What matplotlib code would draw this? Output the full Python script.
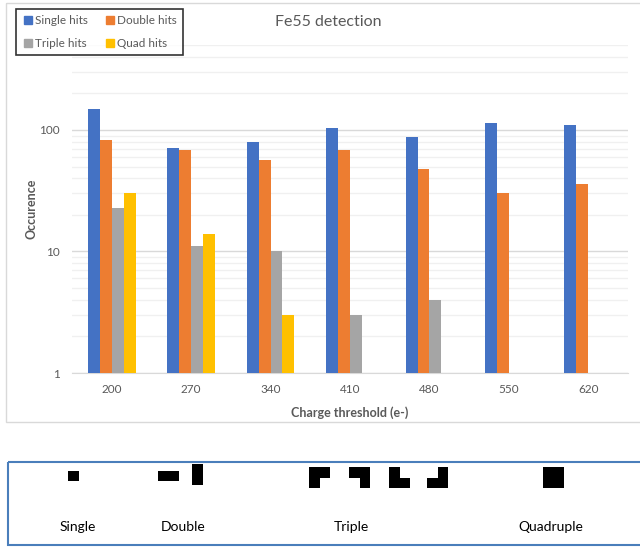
import numpy as np
import matplotlib
matplotlib.use('Agg')
import matplotlib.pyplot as plt
from matplotlib.patches import Rectangle
from matplotlib.lines import Line2D

plt.rcParams['font.family'] = ['Lato', 'DejaVu Sans']

# --
# data

thresholds = ['200', '270', '340', '410', '480', '550', '620']
single_hits = [149, 71, 79, 103, 88, 113, 110]
double_hits = [82, 68, 57, 69, 48, 30, 36]
triple_hits = [23, 11, 10, 3, 4, np.nan, np.nan]
quad_hits = [30, 14, 3, np.nan, np.nan, np.nan, np.nan]

series_names = ['Single hits', 'Double hits', 'Triple hits', 'Quad hits']
series_colors = ['#4472C4', '#ED7D31', '#A5A5A5', '#FFC000']

# cluster shapes as (col, row) cells, row 0 on top
cluster_labels = ['Single', 'Double', 'Triple', 'Quadruple']
single_shapes = [[(0, 0)]]
double_shapes = [[(0, 0), (1, 0)], [(0, 0), (0, 1)]]
triple_shapes = [[(0, 0), (1, 0), (0, 1)],
                 [(0, 0), (1, 0), (1, 1)],
                 [(0, 0), (0, 1), (1, 1)],
                 [(1, 0), (1, 1), (0, 1)]]
quad_shapes = [[(0, 0), (1, 0), (0, 1), (1, 1)]]


# --
# figure + pixel overlay for frames and cluster panel

W, H = 640, 547
fig = plt.figure(figsize=(W / 100, H / 100), dpi=100)

bg = fig.add_axes([0, 0, 1, 1], zorder=0)
bg.set_xlim(0, W)
bg.set_ylim(H, 0)
bg.axis('off')

bg.add_patch(Rectangle((6, 3), W, 419, fill=False, edgecolor='#d9d9d9', lw=1))
bg.add_patch(Rectangle((8, 462), W, 83, fill=False, edgecolor='#4A7EBB', lw=1.5))


# --
# bar chart

ax = fig.add_axes([72 / W, 1 - 373 / H, 556 / W, (373 - 45) / H], zorder=1)
ax.patch.set_alpha(0)

x = np.arange(len(thresholds))
width = 0.15
all_series = [single_hits, double_hits, triple_hits, quad_hits]
for i, (vals, name, col) in enumerate(zip(all_series, series_names, series_colors)):
    ax.bar(x + (i - 1.5) * width, vals, width, color=col, label=name, zorder=3)

ax.set_yscale('log')
ax.set_ylim(1, 500)
ax.set_xlim(-0.5, len(thresholds) - 0.5)
ax.set_xticks(x)
ax.set_xticklabels(thresholds)
ax.set_yticks([1, 10, 100])
ax.set_yticklabels(['1', '10', '100'])
ax.yaxis.set_minor_formatter(matplotlib.ticker.NullFormatter())
ax.tick_params(axis='both', which='both', length=0, colors='#595959', labelsize=8.5)
ax.tick_params(axis='x', pad=8)
ax.tick_params(axis='y', pad=9)
ax.grid(True, which='major', axis='y', color='#d9d9d9', lw=1, zorder=0)
ax.grid(True, which='minor', axis='y', color='#f0f0f0', lw=1, zorder=0)
for s in ['top', 'right', 'left']:
    ax.spines[s].set_visible(False)
ax.spines['bottom'].set_color('#d9d9d9')

ax.set_xlabel('Charge threshold (e-)', fontsize=9, fontweight='bold', color='#595959', labelpad=8)
ax.set_ylabel('Occurence', fontsize=9, fontweight='bold', color='#595959')
ax.yaxis.set_label_coords(-34 / 556, 0.5)

fig.text(328 / W, 1 - 22 / H, 'Fe55 detection', ha='center', va='center',
         fontsize=11.5, color='#595959')

# column-wise fill: put Single/Double on the first row
order = [0, 2, 1, 3]
handles = [Line2D([], [], marker='s', ls='', markersize=6, color=series_colors[k]) for k in order]
labels = [series_names[k] for k in order]
leg = fig.legend(handles, labels, loc='upper left', bbox_to_anchor=(16 / W, 1 - 9 / H),
                 ncol=2, fontsize=8.5, frameon=True, fancybox=False, borderaxespad=0,
                 handletextpad=0.1, columnspacing=1.3, labelspacing=0.95, borderpad=0.55,
                 handlelength=1.0)
leg.get_frame().set_edgecolor('black')
leg.get_frame().set_linewidth(1.2)
for t in leg.get_texts():
    t.set_color('#595959')


# --
# cluster shape panel

def draw_shape(cells, x0, y0, unit=10.5):
    for c, r in cells:
        bg.add_patch(Rectangle((x0 + c * unit, y0 + r * unit), unit, unit,
                               facecolor='black', edgecolor='none'))

draw_shape(single_shapes[0], 68, 470.5)
draw_shape(double_shapes[0], 158, 470.5)
draw_shape(double_shapes[1], 192, 464)
for k, x0 in enumerate([309, 349, 389, 427]):
    draw_shape(triple_shapes[k], x0, 467)
draw_shape(quad_shapes[0], 543, 467)

for lab, xc in zip(cluster_labels, [78, 183, 351, 551]):
    bg.text(xc, 527, lab, ha='center', va='center', fontsize=10, color='black')

plt.savefig('out.png', dpi=100)
